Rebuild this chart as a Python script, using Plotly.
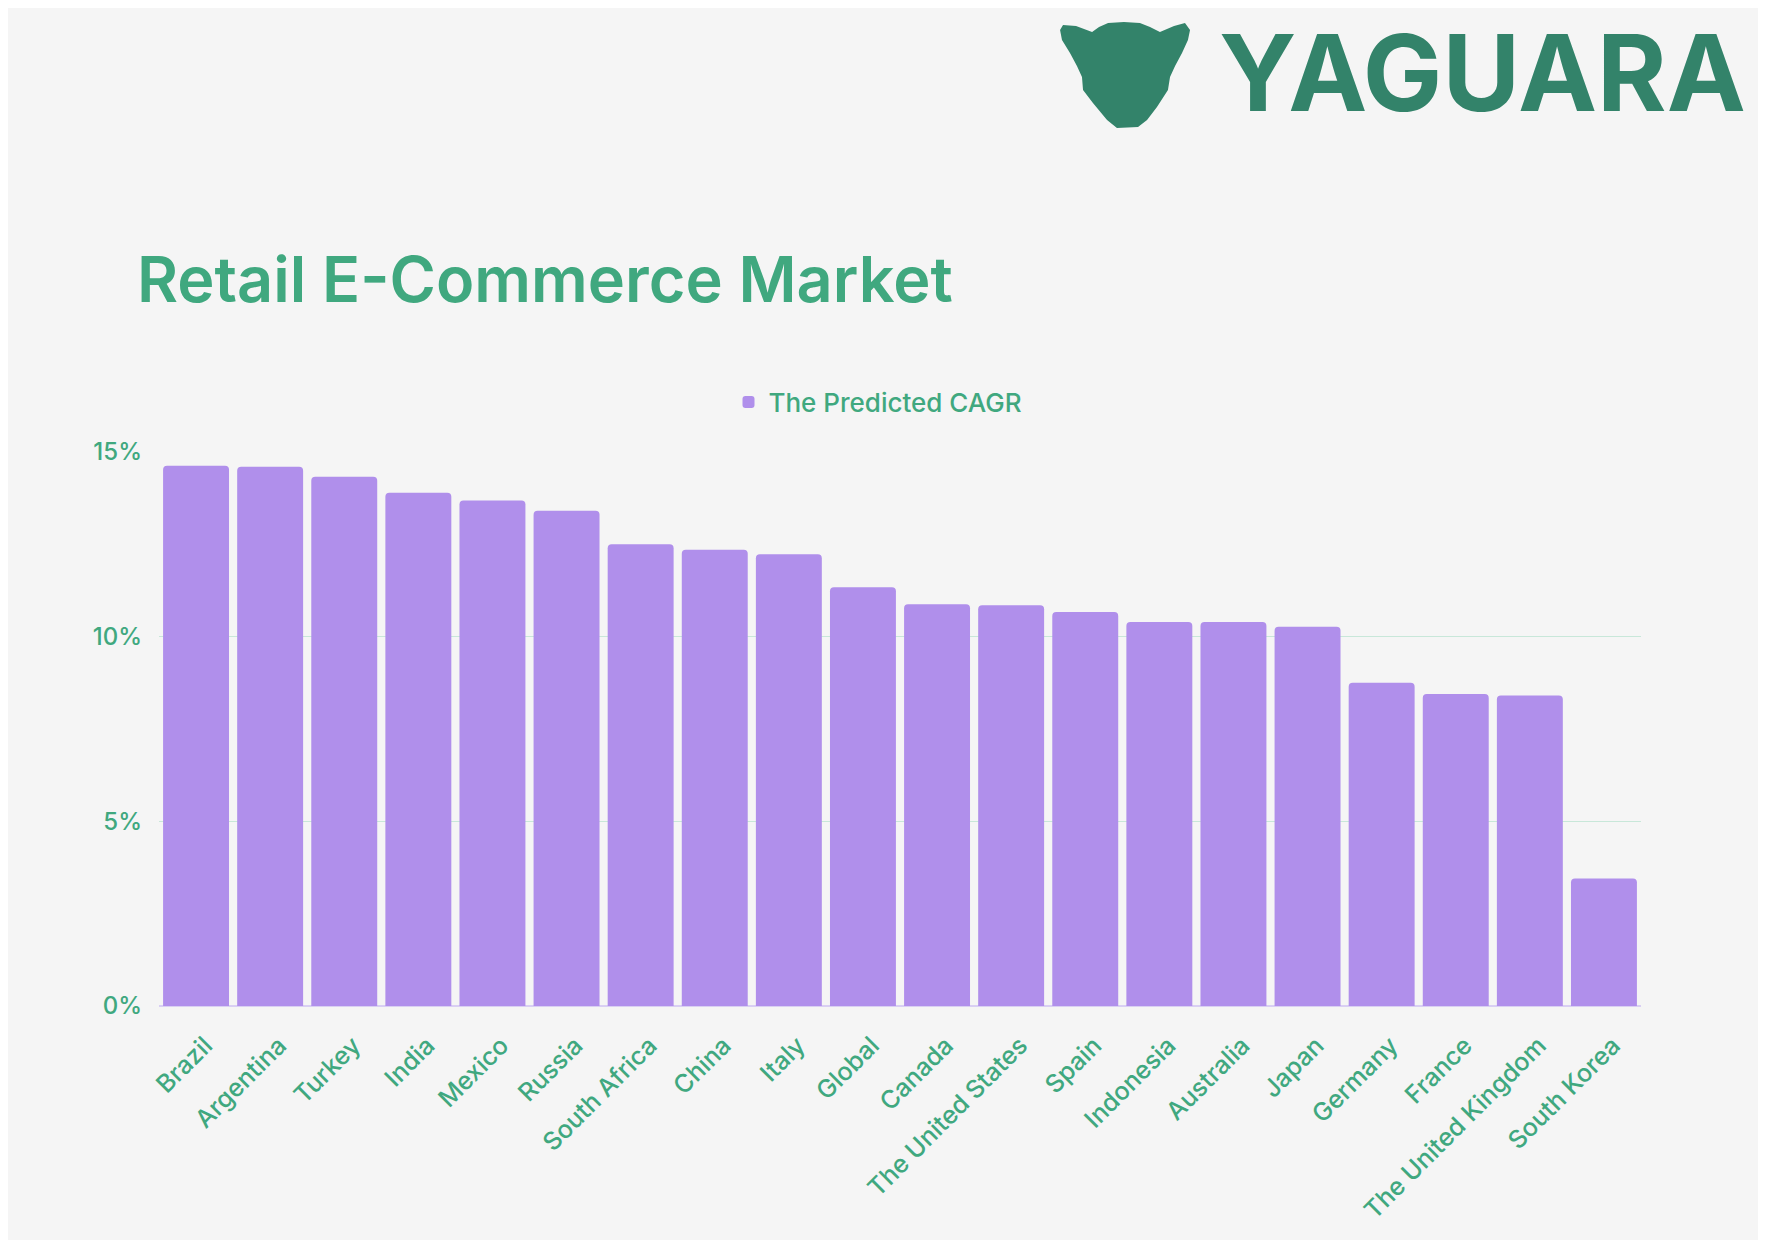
import plotly.graph_objects as go

# Predicted CAGR (%) per market
countries = ["Brazil", "Argentina", "Turkey", "India", "Mexico", "Russia", "South Africa",
             "China", "Italy", "Global", "Canada", "The United States", "Spain", "Indonesia",
             "Australia", "Japan", "Germany", "France", "The United Kingdom", "South Korea"]
cagr = [14.63, 14.6, 14.33, 13.9, 13.69, 13.41, 12.5, 12.35, 12.23, 11.34,
        10.88, 10.85, 10.67, 10.4, 10.4, 10.27, 8.75, 8.45, 8.41, 3.45]
y_ticks = [0, 5, 10, 15]
y_tick_labels = ["0%", "5%", "10%", "15%"]

# page has an 8px body margin, so the figure is drawn 16px smaller
OFF = 8
W, H = 1766 - 2 * OFF, 1248 - 2 * OFF
L, T = 159 - OFF, 452 - OFF
R = W - (1641 - OFF)
B = H - (1006 - OFF)
green = "#40A87F"
logo_green = "#33836A"
bar_color = "#B08FEB"


def to_paper(x, y):
    # reference pixel position -> paper coordinates (logo / title placement)
    x, y = x - OFF, y - OFF
    return (x - L) / (W - L - R), (H - B - y) / (H - T - B)


head = [(1063, 25), (1060, 30), (1062, 40), (1070, 53), (1077, 66), (1082, 77), (1083, 90),
        (1093, 103), (1107, 120), (1117, 128), (1138, 127), (1147, 120), (1157, 107),
        (1168, 90), (1170, 77), (1175, 66), (1182, 53), (1188, 40), (1190, 30), (1185, 23),
        (1174, 26), (1160, 32), (1150, 27), (1140, 23), (1124, 22), (1108, 23), (1099, 27),
        (1092, 32), (1076, 26)]
path = ""
for i, (hx, hy) in enumerate(head):
    px, py = to_paper(hx, hy)
    path += ("M" if i == 0 else "L") + f"{px:.4f},{py:.4f} "
path += "Z"

fig = go.Figure()
fig.add_trace(go.Bar(
    x=countries,
    y=cagr,
    name="The Predicted CAGR",
    marker=dict(color=bar_color, line=dict(width=0)),
))

tx, ty = to_paper(135, 279)
lx, ly = to_paper(1217, 72)
gx, gy = to_paper(878, 402)

tick_font = dict(family="Inter, sans-serif", size=24, color=green, weight=500)

fig.update_layout(
    width=W,
    height=H,
    paper_bgcolor="#F5F5F5",
    plot_bgcolor="#F5F5F5",
    font=dict(family="Inter, sans-serif", color=green, size=24),
    margin=dict(l=L, r=R, t=T, b=B),
    bargap=0.11,
    barcornerradius=4,
    showlegend=True,
    legend=dict(orientation="h", x=gx, y=gy, xanchor="center", yanchor="middle",
                font=dict(family="Inter, sans-serif", size=26, color=green, weight=500),
                bgcolor="rgba(0,0,0,0)"),
    xaxis=dict(showgrid=False, zeroline=False, tickangle=-45,
               tickfont=dict(family="Inter, sans-serif", size=25, color=green, weight=500),
               ticks="", ticklabelstandoff=19, ticklabelshift=9),
    yaxis=dict(range=[0, 15], tickvals=y_ticks, ticktext=y_tick_labels,
               showgrid=True, gridcolor="#C8E7D9", gridwidth=1,
               zeroline=True, zerolinecolor="#D9CFF3", zerolinewidth=2,
               tickfont=tick_font, ticklabelstandoff=16),
    shapes=[dict(type="path", path=path, xref="paper", yref="paper",
                 fillcolor=logo_green, line=dict(width=0))],
    annotations=[
        dict(text="Retail E-Commerce Market", x=tx, y=ty, xref="paper", yref="paper",
             xanchor="left", yanchor="middle", showarrow=False,
             font=dict(size=63, color=green, family="Inter, sans-serif", weight=600)),
        dict(text="YAGUARA", x=lx, y=ly, xref="paper", yref="paper",
             xanchor="left", yanchor="middle", showarrow=False,
             font=dict(size=106, color=logo_green, family="Inter, sans-serif", weight=700)),
    ],
)

fig.write_html("out.html")
